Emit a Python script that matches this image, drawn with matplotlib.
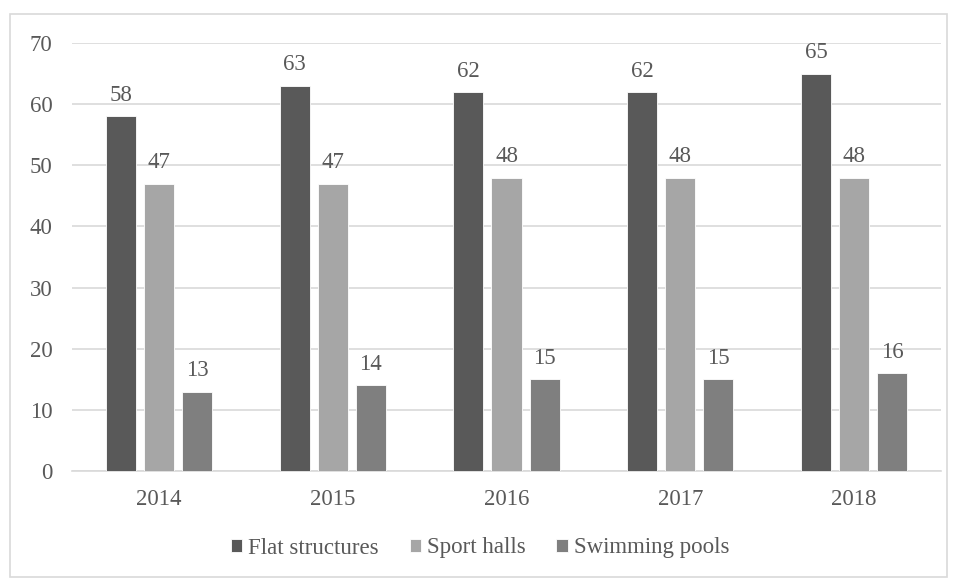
import matplotlib
matplotlib.use('Agg')
import matplotlib.pyplot as plt
import numpy as np
from matplotlib.patches import Rectangle

years = ['2014', '2015', '2016', '2017', '2018']
flat = [58, 63, 62, 62, 65]
halls = [47, 47, 48, 48, 48]
pools = [13, 14, 15, 15, 16]

series = [('Flat structures', flat, '#595959'),
          ('Sport halls', halls, '#A6A6A6'),
          ('Swimming pools', pools, '#7F7F7F')]

plt.rcParams['font.family'] = ['Liberation Serif', 'DejaVu Serif']
txt = '#595959'
fs = 16.5

fig = plt.figure(figsize=(9.57, 5.81), dpi=100)
fig.patches.append(Rectangle((10/957, 4/581), 937/957, 563/581, transform=fig.transFigure,
                             fill=False, edgecolor='#D9D9D9', linewidth=1.2))
ax = fig.add_axes([72/957, 1 - 471/581, 869/957, 428/581])

x = np.arange(len(years))
w = 0.173
step = 0.219
for i, (name, vals, col) in enumerate(series):
    pos = x + (i - 1) * step
    ax.bar(pos, vals, w, color=col, edgecolor='white', linewidth=0.6, label=name, zorder=3)
    for p, v in zip(pos, vals):
        ax.text(p, v + 1.7, str(v), ha='center', va='bottom', fontsize=fs, color=txt)

ax.set_xlim(-0.5, len(years) - 0.5)
ax.set_ylim(0, 70)
ax.set_yticks(range(0, 71, 10))
ax.set_xticks(x)
ax.set_xticklabels(years)
ax.grid(axis='y', color='#D9D9D9', linewidth=1.2, zorder=0)
for s in ['top', 'right', 'left']:
    ax.spines[s].set_visible(False)
ax.spines['bottom'].set_color('#D9D9D9')
ax.spines['bottom'].set_linewidth(1.2)
ax.tick_params(axis='both', length=0, labelsize=fs, colors=txt)
ax.tick_params(axis='y', pad=14)
ax.tick_params(axis='x', pad=13)

fig.legend(loc='center', bbox_to_anchor=(480/957, 1 - 548/581), ncol=3, frameon=False,
           fontsize=fs, labelcolor=txt, handlelength=0.5, handleheight=0.5,
           handletextpad=0.25, columnspacing=1.35)

plt.savefig('out.png', dpi=100)
